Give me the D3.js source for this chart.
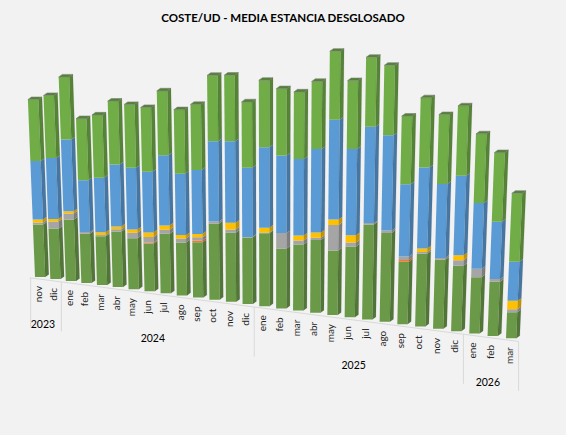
<!DOCTYPE html>
<html>
<head>
<meta charset="utf-8">
<script src="https://cdn.jsdelivr.net/npm/d3@7"></script>
<style>
html, body { margin: 0; padding: 0; background: #f2f2f2; }
svg { display: block; font-family: Lato, "Liberation Sans", sans-serif; }
</style>
</head>
<body>
<svg id="chart" width="566" height="435"></svg>
<script>
// meses y años del eje
const meses = ["nov","dic","ene","feb","mar","abr","may","jun","jul","ago","sep","oct","nov","dic",
               "ene","feb","mar","abr","may","jun","jul","ago","sep","oct","nov","dic","ene","feb","mar"];
const anios = ["2023", "2024", "2025", "2026"];
const mesesPorAnio = [2, 12, 12, 3];

// series apiladas, de abajo arriba
const serieBase     = [52.4,50.3,61.0,48.9,48.1,54.6,50.0,46.7,58.1,51.5,53.5,73.3,66.3,63.8,69.7,56.8,62.6,68.8,60.7,66.3,88.8,82.9,58.0,67.3,63.6,60.0,51.5,49.3,23.6];
const serieNaranja  = [0,0,0,0,0,0,0,1.0,0,0,1.6,0,0,0,0,0,0,0,0,0,0,0,1.6,0,0,0,0,0,0];
const serieGris     = [2.0,7.0,6.0,1.6,1.3,2.3,5.3,5.4,3.9,3.9,3.2,2.2,3.3,0.5,0.7,14.8,3.8,2.1,24.2,3.8,1.4,2.2,3.3,1.5,1.8,5.2,7.7,2.6,2.7];
const serieAmarillo = [3.0,2.5,2.3,0,2.7,2.8,3.2,4.4,4.2,3.2,3.3,0,6.3,0,4.5,0,4.7,5.0,5.0,7.0,0,0,0,3.4,0,4.6,0,0,7.8];
const serieAzul     = [58.6,60.8,71.2,51.2,53.9,61.0,60.5,59.3,68.2,59.6,61.9,77.4,78.5,66.1,76.7,73.9,72.7,78.8,93.9,80.9,90.2,88.8,66.9,74.9,68.2,72.9,60.4,52.3,35.5];
const serieVerde    = [61.4,62.3,62.2,61.1,61.9,62.3,62.1,62.8,62.8,62.1,63.4,63.4,63.4,63.2,64.0,63.5,63.5,63.9,64.6,64.1,64.8,65.2,63.4,64.5,63.9,64.3,63.2,63.0,62.2];

const claves = ["base", "naranja", "gris", "amarillo", "azul", "verde"];
const colores = ["#6a9a48", "#ed7d31", "#a5a5a5", "#ffc000", "#5b9bd5", "#70ad47"];

const filas = meses.map((m, i) => ({
    base: serieBase[i], naranja: serieNaranja[i], gris: serieGris[i],
    amarillo: serieAmarillo[i], azul: serieAzul[i], verde: serieVerde[i]
}));
const pilas = d3.stack().keys(claves)(filas);

const svg = d3.select("#chart");
const n = meses.length;

// perspectiva: la fila de columnas se acerca hacia la derecha
const r = 1.1;
const t = u => u / (n - 1);
const proj = u => u / (u + r * (1 - u));
const aumento = u => r / (u + r * (1 - u));
const x = d3.scaleLinear().domain([0, 1]).range([35, 506]);
const suelo = d3.scaleLinear().domain([0, 1]).range([277, 338.3]);
const lineaSuelo = d3.scaleLinear().domain([35, 506]).range([277, 338.3]);
const y = d3.scaleLinear().domain([0, 250]).range([0, 250]);
const fuga = { x: 272, y: 6200 };
const ancho = 10.2, fondoX = 3.6, fondoY = -2.6;

function punto(i, v, desp) {
    const u = proj(t(i));
    const bx = x(u) + desp, by = suelo(u);
    const h = y(v) * aumento(t(i));
    return [bx + (bx - fuga.x) * h / (fuga.y - by), by - h];
}
const mover = (p, dx, dy) => [p[0] + dx, p[1] + dy];
const poli = pts => "M" + pts.map(p => p[0].toFixed(2) + "," + p[1].toFixed(2)).join("L") + "Z";

// título
svg.append("text")
    .attr("x", 283).attr("y", 22)
    .attr("text-anchor", "middle")
    .attr("font-size", 11.5).attr("font-weight", "bold").attr("fill", "#000")
    .text("COSTE/UD - MEDIA ESTANCIA DESGLOSADO");

// eje de categorías
const xEtiqueta = u => x(proj(u / (n - 1))) + ancho / 2 - 1.8;
const eje = svg.append("g");
const x0 = xEtiqueta(-0.5), x1 = xEtiqueta(n - 0.5);
eje.append("line")
    .attr("x1", x0 - 1).attr("y1", lineaSuelo(x0 - 1) + 1.5)
    .attr("x2", x1).attr("y2", lineaSuelo(x1) + 1.5)
    .attr("stroke", "#d9d9d9").attr("stroke-width", 1);

eje.selectAll("text.mes").data(meses).join("text")
    .attr("class", "mes")
    .attr("transform", (m, i) => {
        const lx = xEtiqueta(i);
        return `translate(${lx},${lineaSuelo(lx) + 8.5}) rotate(-90)`;
    })
    .attr("dy", "0.35em")
    .attr("text-anchor", "end")
    .attr("font-size", 10).attr("fill", "#262626")
    .text(m => m);

const cortes = [0];
mesesPorAnio.forEach(c => cortes.push(cortes[cortes.length - 1] + c));
eje.selectAll("line.anio").data(cortes).join("line")
    .attr("class", "anio")
    .attr("x1", c => xEtiqueta(c - 0.5)).attr("x2", c => xEtiqueta(c - 0.5))
    .attr("y1", c => lineaSuelo(xEtiqueta(c - 0.5)) + 1.5)
    .attr("y2", c => lineaSuelo(xEtiqueta(c - 0.5)) + 51)
    .attr("stroke", "#d9d9d9").attr("stroke-width", 1);

eje.selectAll("text.anio").data(anios).join("text")
    .attr("class", "anio")
    .attr("x", (a, k) => xEtiqueta((cortes[k] + cortes[k + 1] - 1) / 2) - 3)
    .attr("y", (a, k) => lineaSuelo(xEtiqueta((cortes[k] + cortes[k + 1] - 1) / 2)) + 46)
    .attr("dy", "0.35em")
    .attr("text-anchor", "middle")
    .attr("font-size", 10.5).attr("fill", "#000")
    .text(a => a);

// columnas 3D, de la más lejana (izquierda) a la más cercana
const columnas = svg.append("g");
meses.forEach((m, i) => {
    const g = columnas.append("g");
    let tope = 0;
    pilas.forEach((serie, k) => {
        const [v0, v1] = serie[i];
        if (v1 - v0 <= 0) return;
        tope = v1;
        const a = punto(i, v0, 0), b = punto(i, v0, ancho), c = punto(i, v1, ancho), d = punto(i, v1, 0);
        g.append("path")
            .attr("d", poli([b, mover(b, fondoX, fondoY), mover(c, fondoX, fondoY), c]))
            .attr("fill", d3.color(colores[k]).darker(0.75));
        g.append("path")
            .attr("d", poli([a, b, c, d]))
            .attr("fill", colores[k]);
    });
    const izq = punto(i, tope, 0), der = punto(i, tope, ancho);
    g.append("path")
        .attr("d", poli([izq, der, mover(der, fondoX, fondoY), mover(izq, fondoX, fondoY)]))
        .attr("fill", d3.color(colores[5]).darker(0.8))
        .attr("stroke", "#7f7f7f").attr("stroke-width", 0.6);
    const pie = punto(i, 0, ancho);
    g.append("path")
        .attr("d", poli([pie, mover(pie, fondoX, fondoY), mover(der, fondoX, fondoY), der]))
        .attr("fill", "none").attr("stroke", "#4a4a4a").attr("stroke-opacity", 0.25).attr("stroke-width", 0.5);
});
</script>
</body>
</html>
